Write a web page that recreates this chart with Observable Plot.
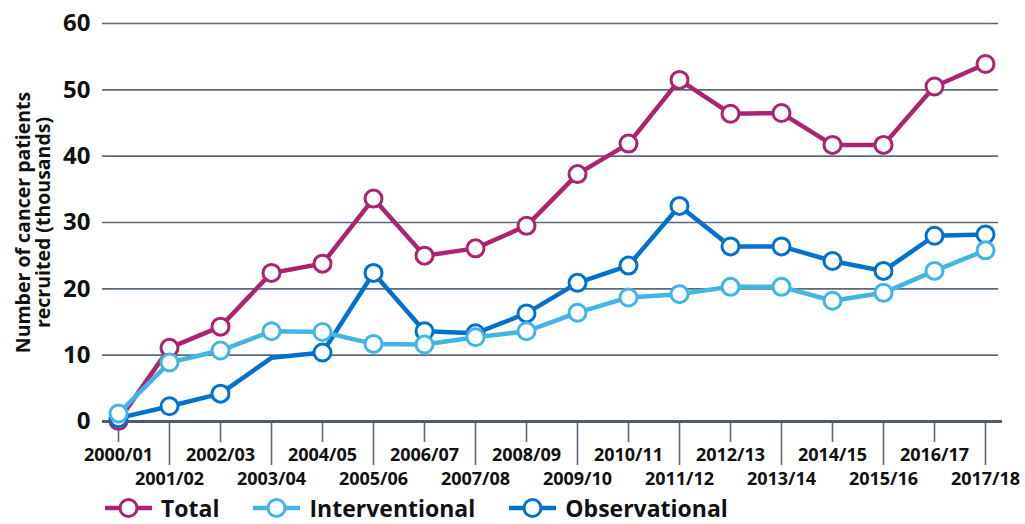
<!DOCTYPE html>
<html>
<head>
<meta charset="utf-8">
<script src="https://cdn.jsdelivr.net/npm/d3@7"></script>
<script src="https://cdn.jsdelivr.net/npm/@observablehq/plot@0.6"></script>
<style>
  body { margin: 0; background: #fff; font-family: "Open Sans", sans-serif; }
  #chart svg { display: block; }
  #legend { display: flex; align-items: center; height: 24px; margin-top: 0px; padding-left: 105px; font-weight: bold; font-size: 23px; line-height: 1; color: #111; }
  .item { display: flex; align-items: center; margin-right: 34px; }
  .item svg { margin-right: 9px; }
</style>
</head>
<body>
<div id="chart"></div>
<div id="legend"></div>
<script>
const categories = ["2000/01","2001/02","2002/03","2003/04","2004/05","2005/06","2006/07","2007/08","2008/09","2009/10","2010/11","2011/12","2012/13","2013/14","2014/15","2015/16","2016/17","2017/18"];
const total = [0.1, 11.1, 14.3, 22.4, 23.8, 33.6, 25.0, 26.1, 29.5, 37.3, 41.9, 51.5, 46.4, 46.5, 41.7, 41.7, 50.5, 53.9];
const interventional = [1.2, 8.9, 10.7, 13.6, 13.5, 11.7, 11.6, 12.7, 13.6, 16.4, 18.7, 19.2, 20.3, 20.3, 18.2, 19.4, 22.7, 25.8];
const observational = [0.5, 2.3, 4.2, 9.6, 10.4, 22.4, 13.6, 13.3, 16.3, 20.9, 23.5, 32.5, 26.4, 26.4, 24.2, 22.7, 28.0, 28.2];
const observationalNoMarker = ["2003/04"];
const seriesNames = ["Total", "Interventional", "Observational"];
const seriesColors = ["#AC2470", "#41B6E6", "#0072CE"];
const yTicks = [0, 10, 20, 30, 40, 50, 60];
const yTitle = "Number of cancer patients\nrecruited (thousands)";

const rows = [];
[total, interventional, observational].forEach((vals, s) => {
  vals.forEach((v, i) => rows.push({series: seriesNames[s], year: categories[i], value: v}));
});
const drawOrder = ["Total", "Observational", "Interventional"];
const gridColor = "#5a6a7a";

const seriesMarks = drawOrder.flatMap(name => {
  const data = rows.filter(d => d.series === name);
  const color = seriesColors[seriesNames.indexOf(name)];
  const dotData = name === "Observational" ? data.filter(d => !observationalNoMarker.includes(d.year)) : data;
  return [
    Plot.line(data, {x: "year", y: "value", stroke: color, strokeWidth: 4.5, strokeLinejoin: "round"}),
    Plot.dot(dotData, {x: "year", y: "value", r: 8.5, fill: "white", stroke: color, strokeWidth: 3})
  ];
});

const chart = Plot.plot({
  width: 1025,
  height: 496,
  marginLeft: 102,
  marginRight: 27,
  marginTop: 23,
  marginBottom: 75,
  style: {fontFamily: "'Open Sans', sans-serif", fontWeight: "bold", color: "#111", background: "white", overflow: "visible"},
  x: {type: "point", domain: categories, range: [115, 987], padding: 0},
  y: {domain: [0, 60], range: [421, 23]},
  marks: [
    Plot.gridY(yTicks.slice(1), {stroke: gridColor, strokeOpacity: 1, strokeWidth: 1.6}),
    Plot.axisY(yTicks, {tickSize: 0, tickPadding: 12, fontSize: 24, fontWeight: "bold", fill: "#111", label: null}),
    Plot.axisX(categories.filter((d, i) => i % 2 === 0), {tickSize: 21, tickPadding: 6, fontSize: 18, fontWeight: "bold", stroke: gridColor, strokeWidth: 1.6, fill: "#111", label: null}),
    Plot.axisX(categories.filter((d, i) => i % 2 === 1), {tickSize: 44, tickPadding: 7, fontSize: 18, fontWeight: "bold", stroke: gridColor, strokeWidth: 1.6, fill: "#111", label: null}),
    Plot.ruleY([0], {stroke: "#4d5c6b", strokeWidth: 3.2, insetRight: -4}),
    Plot.text([yTitle], {frameAnchor: "left", textAnchor: "middle", rotate: -90, dx: -69, fontSize: 19.5, fontWeight: "bold", fill: "#111", lineHeight: 1.05}),
    ...seriesMarks
  ]
});
document.getElementById("chart").appendChild(chart);

const legend = document.getElementById("legend");
seriesNames.forEach((name, s) => {
  const item = document.createElement("div");
  item.className = "item";
  const c = seriesColors[s];
  item.innerHTML = `<svg width="47" height="22"><line x1="0" y1="11" x2="47" y2="11" stroke="${c}" stroke-width="4.5"/><circle cx="23.5" cy="11" r="8.5" fill="white" stroke="${c}" stroke-width="3"/></svg><span>${name}</span>`;
  legend.appendChild(item);
});
</script>
</body>
</html>
